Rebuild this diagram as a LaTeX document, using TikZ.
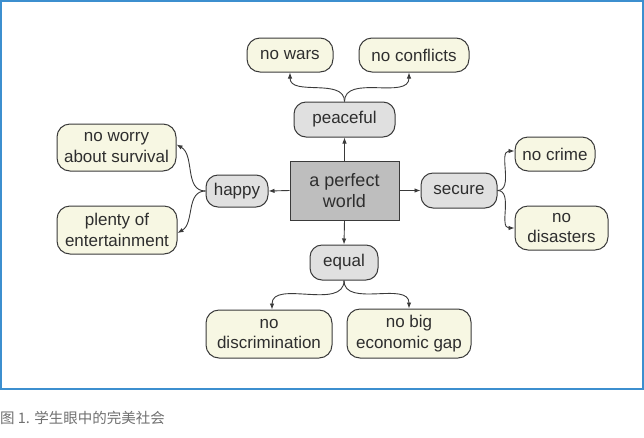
\documentclass[tikz,border=0pt]{standalone}
\usepackage{fontspec}
\setmainfont{Liberation Sans}
\newfontfamily\cjk{Noto Sans CJK SC}
\usetikzlibrary{arrows.meta}
\definecolor{frameblue}{HTML}{3C8FCF}
\definecolor{leaffill}{HTML}{F7F7E3}
\definecolor{midfill}{HTML}{E0E0E0}
\definecolor{rootfill}{HTML}{BEBEBE}
\definecolor{edgecol}{HTML}{3A3A3A}
\definecolor{txtcol}{HTML}{2E2E2E}
\definecolor{capcol}{HTML}{707070}
\tikzset{
  base/.style={draw=edgecol, line width=1pt, text=txtcol, align=center, inner sep=0pt,
    font=\fontsize{17}{20.5}\selectfont},
  leaf/.style={base, fill=leaffill, rounded corners=13pt},
  mid/.style={base, fill=midfill, rounded corners=12pt},
  rootbox/.style={base, fill=rootfill, font=\fontsize{18}{21}\selectfont},
  link/.style={draw=edgecol, line width=0.9pt, -{Latex[length=6pt,width=4.5pt]}},
}
\begin{document}
\begin{tikzpicture}[x=1pt,y=-1pt]
\useasboundingbox (0,0) rectangle (644,437);
\draw[frameblue, line width=1.6pt] (1,1) rectangle (643,389);

\node[rootbox, minimum width=109pt, minimum height=59pt] (root) at (344.5,190.5) {a perfect\\world};

\node[mid, minimum width=101pt, minimum height=35pt] (peaceful) at (344.5,119.5) {peaceful};
\node[mid, minimum width=62pt, minimum height=32pt] (happy) at (237,191) {happy};
\node[mid, minimum width=76pt, minimum height=35pt] (secure) at (459,190.5) {secure};
\node[mid, minimum width=68pt, minimum height=35pt] (equal) at (344,262.5) {equal};

\node[leaf, minimum width=86pt, minimum height=34pt] (nowars) at (290,55) {no wars};
\node[leaf, minimum width=110pt, minimum height=34pt] (noconf) at (414,55) {no conflicts};
\node[leaf, minimum width=119pt, minimum height=47pt] (noworry) at (116.5,147.5) {no worry\\about survival};
\node[leaf, minimum width=120pt, minimum height=48pt] (plenty) at (117,230) {plenty of\\entertainment};
\node[leaf, minimum width=80pt, minimum height=34pt] (nocrime) at (555,154) {no crime};
\node[leaf, minimum width=93pt, minimum height=44pt] (nodis) at (561.5,228) {no\\disasters};
\node[leaf, minimum width=126pt, minimum height=48pt] (nodisc) at (269,334) {no\\discrimination};
\node[leaf, minimum width=124pt, minimum height=49pt] (nogap) at (409,333.5) {no big\\economic gap};

\draw[link] (root.north) -- (peaceful.south);
\draw[link] (root.west) -- (happy.east);
\draw[link] (root.east) -- (secure.west);
\draw[link] (root.south) -- (equal.north);

\draw[link] (peaceful.north) to[out=90,in=-90] (nowars.south);
\draw[link] (peaceful.north) to[out=90,in=-90] ([xshift=-5pt]noconf.south);
\draw[link] (happy.west) to[out=180,in=-30] ([yshift=3pt]noworry.east);
\draw[link] (happy.west) to[out=180,in=30] ([yshift=-3pt]plenty.east);
\draw[link] (secure.east) to[out=0,in=180] ([yshift=3pt]nocrime.west);
\draw[link] (secure.east) to[out=0,in=180] (nodis.west);
\draw[link] (equal.south) to[out=-90,in=90] ([xshift=3pt]nodisc.north);
\draw[link] (equal.south) to[out=-90,in=90] (nogap.north);

\node[anchor=west, inner sep=0pt, text=capcol, font=\cjk\fontsize{14.5}{16}\selectfont] (cap) at (0,418) {图 1. 学生眼中的完美社会};
\end{tikzpicture}
\end{document}
